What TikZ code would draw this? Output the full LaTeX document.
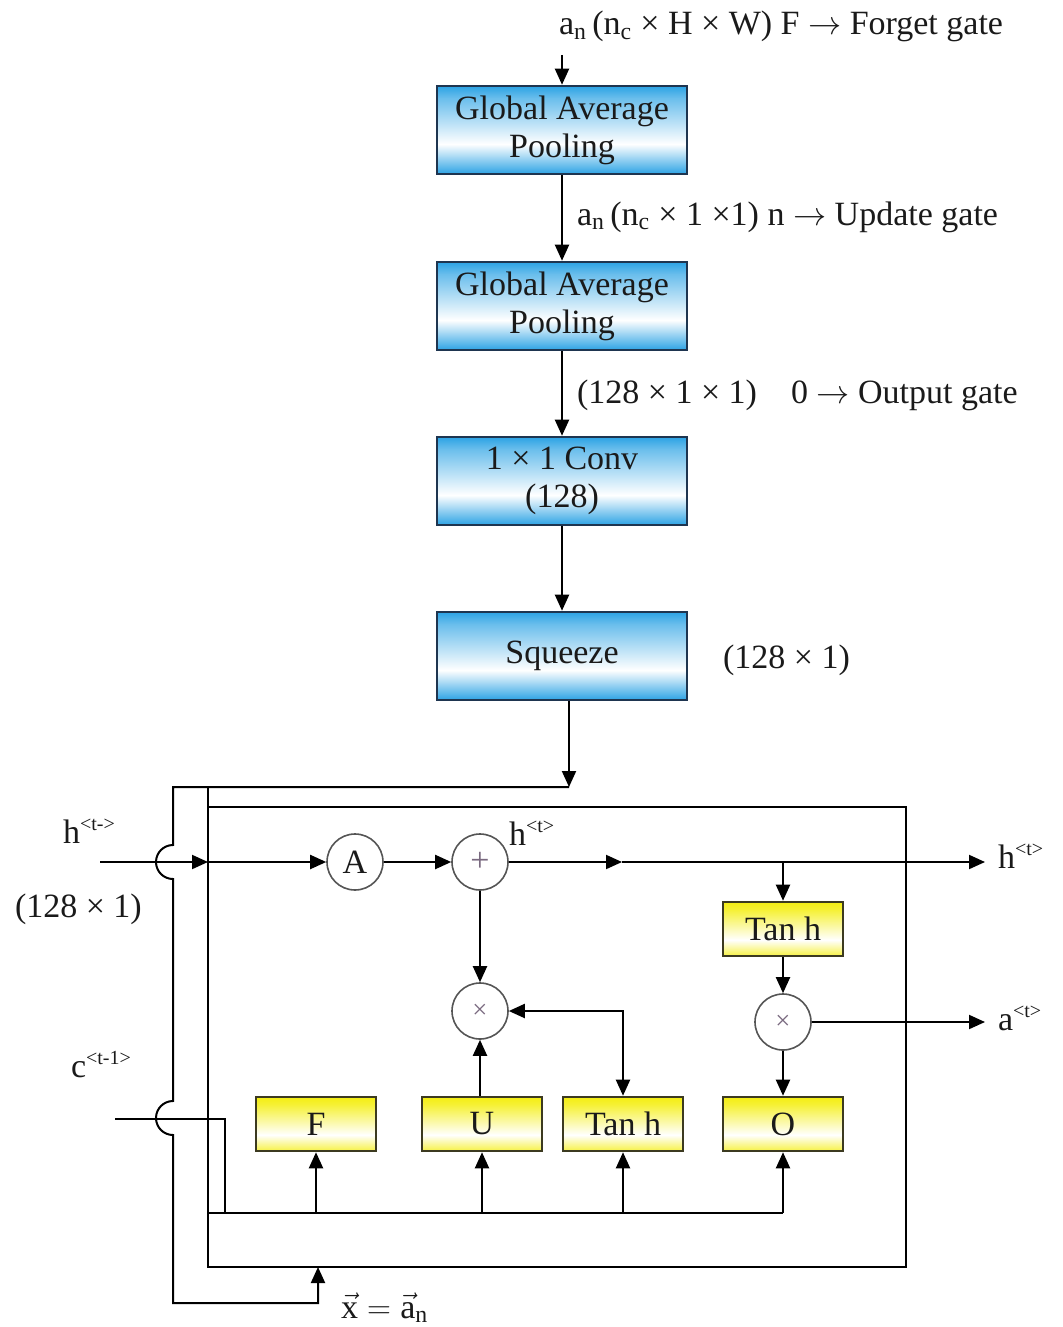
\documentclass[tikz,border=0pt]{standalone}
\usepackage{fontspec}
\setmainfont{Liberation Serif}
\usetikzlibrary{arrows.meta,calc}
\definecolor{bluesh}{HTML}{2AA2E4}
\definecolor{bborder}{HTML}{1E3550}
\definecolor{yel}{HTML}{F4EE10}
\definecolor{yborder}{HTML}{3C3A20}
\definecolor{cborder}{HTML}{555555}
\definecolor{txt}{HTML}{1A1A1A}
\definecolor{symc}{HTML}{7A6A80}
\pgfdeclareverticalshading{bgrad}{100bp}{color(0bp)=(bluesh); color(25bp)=(bluesh); color(42bp)=(white); color(68bp)=(bluesh!70!white); color(75bp)=(bluesh); color(100bp)=(bluesh)}
\pgfdeclareverticalshading{ygrad}{100bp}{color(0bp)=(yel); color(25bp)=(yel!80!white); color(40bp)=(white); color(68bp)=(yel!85!white); color(75bp)=(yel); color(100bp)=(yel)}
\begin{document}
\begin{tikzpicture}[x=0.75pt,y=-0.75pt,
  >={Triangle[length=12pt,width=10.5pt]},
  line width=1.5pt,
  every node/.style={font=\fontsize{25.5}{28.5}\selectfont, text=txt},
  bbox/.style={rectangle, draw=bborder, line width=1.4pt, shade, shading=bgrad,
    minimum width=187.5pt, minimum height=66.5pt, align=center, inner sep=0pt},
  ybox/.style={rectangle, draw=yborder, line width=1.4pt, shade, shading=ygrad,
    minimum width=90pt, minimum height=41pt, inner sep=0pt},
  circ/.style={circle, draw=cborder, fill=white, line width=1.2pt,
    minimum size=42pt, inner sep=0pt},
  lbl/.style={anchor=base west, inner sep=0pt}]
\useasboundingbox (0,0) rectangle (1063,1327);

% ---- blue chain ----
\node[bbox] (g1) at (562,130) {Global Average\\Pooling};
\node[bbox] (g2) at (562,306) {Global Average\\Pooling};
\node[bbox] (conv) at (562,481) {1 × 1 Conv\\(128)};
\node[bbox] (sq) at (562,656) {Squeeze};

\coordinate (tin) at (562,55);
\draw[->] (tin) -- (g1);
\draw[->] (g1) -- (g2);
\draw[->] (g2) -- (conv);
\draw[->] (conv) -- (sq);

\node[lbl] (l1) at (558,35) {a\textsubscript{n}\,(n\textsubscript{c} × H × W) F $\rightarrow$ Forget gate};
\node[lbl] (l2) at (576,225) {a\textsubscript{n}\,(n\textsubscript{c} × 1 ×1) n $\rightarrow$ Update gate};
\node[lbl] (l3) at (576,403) {(128 × 1 × 1)};
\node[lbl] (l3b) at (790,403) {0 $\rightarrow$ Output gate};
\node[lbl] (l4) at (722,668) {(128 × 1)};

% ---- cell ----
\node[circ] (A) at (355,862) {A};
\node[circ] (plus) at (480,862) {\textcolor{symc}{+}};
\node[circ] (m1) at (480,1011) {\textcolor{symc}{\fontsize{20}{20}\selectfont ×}};
\node[circ] (m2) at (783,1022) {\textcolor{symc}{\fontsize{20}{20}\selectfont ×}};
\node[ybox] (tanhA) at (783,929) {Tan h};
\node[ybox] (F) at (316,1124) {F};
\node[ybox] (U) at (482,1124) {U};
\node[ybox] (tanhB) at (623,1124) {Tan h};
\node[ybox] (O) at (783,1124) {O};

% outer feedback line with jumps
\coordinate (jt) at (569,787);
\coordinate (xin) at (318,1267);
\draw[->] (jt |- sq.south) -- (jt);
\draw[->] (jt) -- (173,787) -- (173,845) arc[start angle=270,end angle=90,radius=17]
  -- (173,1101) arc[start angle=270,end angle=90,radius=17]
  -- (173,1303) -| (xin);

% inner frame
\draw (208,787) -- (208,1267) -- (906,1267) -- (906,807) -- (208,807);

% h path
\coordinate (hin) at (100,862);
\coordinate (hj) at (208,862);
\coordinate (hm) at (622,862);
\coordinate (hout) at (985,862);
\draw[->] (hin) -- (hj);
\draw[->] (hj) -- (A);
\draw[->] (A) -- (plus);
\draw[->] (plus) -- (hm);
\draw[->] (hm) -- (hout);
\draw[->] (tanhA.north |- hm) -- (tanhA);
\draw[->] (tanhA) -- (m2);
\coordinate (aout) at (985,1022);
\draw[->] (m2) -- (aout);
\draw[->] (m2) -- (O);
\draw[->] (plus) -- (m1);
\draw[->] (U.north -| m1) -- (m1);
\draw[<->] (m1) -| (tanhB);

% c path and bus
\coordinate (cin) at (115,1119);
\coordinate (busL) at (208,1213);
\draw (cin) -- (225,1119) -- (225,1213);
\draw (busL) -- (O.south |- busL);
\foreach \n in {F,U,tanhB,O} \draw[->] (\n.south |- busL) -- (\n.south);

% labels
\node[lbl] (lh1) at (62,843) {h\textsuperscript{\fontsize{15}{15}\selectfont <t->}};
\node[lbl] (ls) at (14,917) {(128 × 1)};
\node[lbl] (lh2) at (508,845) {h\textsuperscript{\fontsize{15}{15}\selectfont <t>}};
\node[lbl] (lh3) at (997,868) {h\textsuperscript{\fontsize{15}{15}\selectfont <t>}};
\node[lbl] (la) at (997,1030) {a\textsuperscript{\fontsize{15}{15}\selectfont <t>}};
\node[lbl] (lc) at (70,1077) {c\textsuperscript{\fontsize{15}{15}\selectfont <t-1>}};
\node[lbl] (lx) at (340,1318) {$\vec{\mathrm{x}}=\vec{\mathrm{a}}_{\mathrm{n}}$};
\end{tikzpicture}
\end{document}
